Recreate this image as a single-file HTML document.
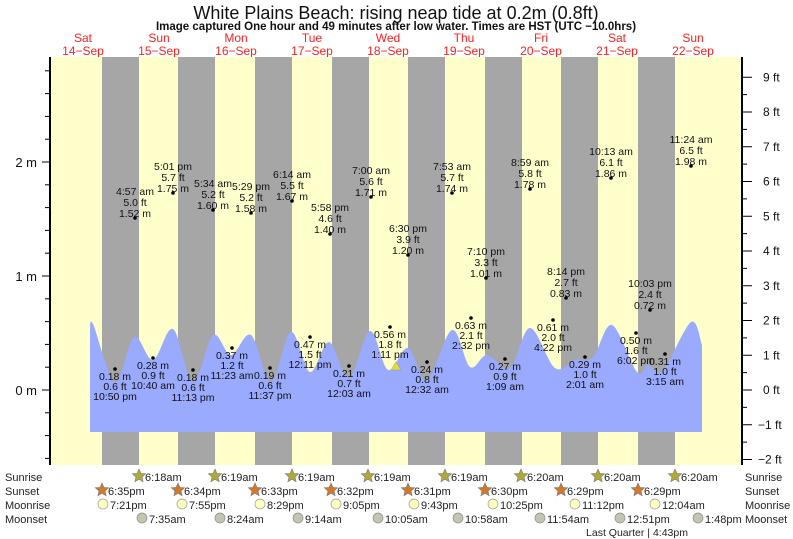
<!DOCTYPE html>
<html><head><meta charset="utf-8"><style>
body{margin:0;background:#fff;}
svg{display:block;font-family:"Liberation Sans",sans-serif;}
.t{font-size:10.5px;fill:#111;text-anchor:middle;}
.b{font-size:11px;fill:#222;}
</style></head><body>
<svg id="s" width="793" height="539" viewBox="0 0 793 539">
<rect width="793" height="539" fill="#fff"/>
<text x="396" y="19" font-size="18" text-anchor="middle" fill="#111">White Plains Beach: rising  neap tide at 0.2m (0.8ft)</text>
<text x="396" y="30" font-size="11.5" font-weight="bold" text-anchor="middle" fill="#111">Image captured One hour and 49 minutes after low water. Times are HST (UTC −10.0hrs)</text>
<g font-size="12" fill="#ff2020" text-anchor="middle">
<text x="83" y="42">Sat</text><text x="83" y="55">14−Sep</text>
<text x="159" y="42">Sun</text><text x="159" y="55">15−Sep</text>
<text x="236" y="42">Mon</text><text x="236" y="55">16−Sep</text>
<text x="312" y="42">Tue</text><text x="312" y="55">17−Sep</text>
<text x="388" y="42">Wed</text><text x="388" y="55">18−Sep</text>
<text x="464" y="42">Thu</text><text x="464" y="55">19−Sep</text>
<text x="541" y="42">Fri</text><text x="541" y="55">20−Sep</text>
<text x="617" y="42">Sat</text><text x="617" y="55">21−Sep</text>
<text x="693" y="42">Sun</text><text x="693" y="55">22−Sep</text>
</g>
<rect x="50" y="57" width="692" height="408" fill="#ffffcc"/>
<g fill="#a6a6a6">
<rect x="102" y="57" width="37" height="408"/><rect x="178" y="57" width="37" height="408"/>
<rect x="255" y="57" width="37" height="408"/><rect x="332" y="57" width="37" height="408"/>
<rect x="408" y="57" width="37" height="408"/><rect x="485" y="57" width="37" height="408"/>
<rect x="561" y="57" width="37" height="408"/><rect x="638" y="57" width="37" height="408"/>
</g>
<path id="tide" fill="#99aaff" d=""/>
<polygon points="391,370 396,362 401,370" fill="#e6d83a" stroke="#999" stroke-width="0.5"/>
<g id="lab"></g>
<line x1="50" y1="57" x2="50" y2="465" stroke="#000" stroke-width="2"/>
<line x1="742" y1="57" x2="742" y2="465" stroke="#000" stroke-width="2"/>
<g id="ticks" stroke="#000" stroke-width="1"></g>
<g font-size="13" fill="#111" text-anchor="end">
<text x="37" y="167">2 m</text><text x="37" y="281">1 m</text><text x="37" y="395">0 m</text>
</g>
<g id="ft" font-size="12" fill="#111"></g>
<g class="b">
<text x="5" y="481">Sunrise</text><text x="5" y="495">Sunset</text><text x="5" y="509">Moonrise</text><text x="5" y="523">Moonset</text>
<text x="745" y="481">Sunrise</text><text x="745" y="495">Sunset</text><text x="745" y="509">Moonrise</text><text x="745" y="523">Moonset</text>
<text x="637" y="536" text-anchor="middle" font-size="10.5">Last Quarter | 4:43pm</text>
</g>
<g id="astro"></g>
</svg>
<script>
var NS="http://www.w3.org/2000/svg";
function el(p,n,a,t){var e=document.createElementNS(NS,n);for(var k in a)e.setAttribute(k,a[k]);if(t!=null)e.textContent=t;p.appendChild(e);return e;}
var P=[[90,332],[93,324],[115,382],[134,337],[153,360],[173,329],[193,382],[213,335],[231,355],[251,335],[271,382],[291,332],[310,372],[329,342],[349,378],[370,331],[388,370],[408,348],[427,380],[452,330],[470,367],[487,355],[510,368],[530,328],[555,368],[575,360],[593,357],[612,325],[637,372],[648,365],[663,370],[691,322],[702,345]];
var d="M90,432 L"+P[0][0]+","+P[0][1];
for(var i=0;i<P.length-1;i++){var p0=P[Math.max(i-1,0)],p1=P[i],p2=P[i+1],p3=P[Math.min(i+2,P.length-1)];
d+=" C"+(p1[0]+(p2[0]-p0[0])/6)+","+(p1[1]+(p2[1]-p0[1])/6)+" "+(p2[0]-(p3[0]-p1[0])/6)+","+(p2[1]-(p3[1]-p1[1])/6)+" "+p2[0]+","+p2[1];}
d+=" L702,432 Z";document.getElementById("tide").setAttribute("d",d);
var L=document.getElementById("lab");
var H=[[135,191,"4:57 am","5.0 ft","1.52 m"],[173,166,"5:01 pm","5.7 ft","1.75 m"],[213,183,"5:34 am","5.2 ft","1.60 m"],[251,186,"5:29 pm","5.2 ft","1.58 m"],[292,174,"6:14 am","5.5 ft","1.67 m"],[330,207,"5:58 pm","4.6 ft","1.40 m"],[371,170,"7:00 am","5.6 ft","1.71 m"],[408,228,"6:30 pm","3.9 ft","1.20 m"],[452,166,"7:53 am","5.7 ft","1.74 m"],[486,251,"7:10 pm","3.3 ft","1.01 m"],[530,162,"8:59 am","5.8 ft","1.78 m"],[566,271,"8:14 pm","2.7 ft","0.83 m"],[611,151,"10:13 am","6.1 ft","1.86 m"],[650,283,"10:03 pm","2.4 ft","0.72 m"],[691,139,"11:24 am","6.5 ft","1.98 m"]];
H.forEach(function(h){for(var j=0;j<3;j++)el(L,"text",{x:h[0],y:h[1]+j*11+4,"class":"t"},h[2+j]);el(L,"circle",{cx:h[0],cy:h[1]+27,r:1.8,fill:"#000"});});
var Lo=[[115,369,"0.18 m","0.6 ft","10:50 pm"],[153,358,"0.28 m","0.9 ft","10:40 am"],[193,370,"0.18 m","0.6 ft","11:13 pm"],[232,348,"0.37 m","1.2 ft","11:23 am"],[270,368,"0.19 m","0.6 ft","11:37 pm"],[310,337,"0.47 m","1.5 ft","12:11 pm"],[349,366,"0.21 m","0.7 ft","12:03 am"],[390,327,"0.56 m","1.8 ft","1:11 pm"],[427,362,"0.24 m","0.8 ft","12:32 am"],[471,318,"0.63 m","2.1 ft","2:32 pm"],[505,359,"0.27 m","0.9 ft","1:09 am"],[553,320,"0.61 m","2.0 ft","4:22 pm"],[585,357,"0.29 m","1.0 ft","2:01 am"],[636,333,"0.50 m","1.6 ft","6:02 pm"],[665,354,"0.31 m","1.0 ft","3:15 am"]];
Lo.forEach(function(h){el(L,"circle",{cx:h[0],cy:h[1],r:1.8,fill:"#000"});for(var j=0;j<3;j++)el(L,"text",{x:h[0],y:h[1]+11+j*10,"class":"t"},h[2+j]);});
var T=document.getElementById("ticks");
for(var m=-0.6;m<=2.81;m+=0.2){var y=390-m*114,maj=Math.abs(m-Math.round(m))<0.01;el(T,"line",{x1:maj?42:45,x2:50,y1:y,y2:y});}
var F=document.getElementById("ft");
for(var f=-2;f<=9.01;f+=0.5){var y=390-f*34.75,maj=Math.abs(f-Math.round(f))<0.01;el(T,"line",{x1:742,x2:maj?752:747,y1:y,y2:y});if(maj)el(F,"text",{x:f<0?758:763,y:y+4},(f<0?"−":"")+Math.abs(Math.round(f))+" ft");}
var A=document.getElementById("astro");
function star(cx,cy,c){var pts=[];for(var k=0;k<10;k++){var r=k%2?3.2:7,a=-Math.PI/2+k*Math.PI/5;pts.push((cx+r*Math.cos(a)).toFixed(1)+","+(cy+r*Math.sin(a)).toFixed(1));}el(A,"polygon",{points:pts.join(" "),fill:c,stroke:"#777","stroke-width":0.6});}
var sr=[[139,"6:18am"],[215,"6:19am"],[292,"6:19am"],[368,"6:19am"],[445,"6:19am"],[521,"6:20am"],[598,"6:20am"],[675,"6:20am"]];
sr.forEach(function(s){star(s[0],476,"#b0a838");el(A,"text",{x:s[0]+6,y:481,"class":"b"},s[1]);});
var ss=[[102,"6:35pm"],[178,"6:34pm"],[255,"6:33pm"],[331,"6:32pm"],[408,"6:31pm"],[485,"6:30pm"],[561,"6:29pm"],[638,"6:29pm"]];
ss.forEach(function(s){star(s[0],490,"#d2782a");el(A,"text",{x:s[0]+6,y:495,"class":"b"},s[1]);});
var mr=[[103,"7:21pm"],[182,"7:55pm"],[260,"8:29pm"],[336,"9:05pm"],[414,"9:43pm"],[493,"10:25pm"],[575,"11:12pm"],[655,"12:04am"]];
mr.forEach(function(s){el(A,"circle",{cx:s[0],cy:504,r:5,fill:"#ffffc0",stroke:"#999","stroke-width":0.7});el(A,"text",{x:s[0]+7,y:509,"class":"b"},s[1]);});
var ms=[[142,"7:35am"],[220,"8:24am"],[298,"9:14am"],[378,"10:05am"],[458,"10:58am"],[540,"11:54am"],[620,"12:51pm"],[698,"1:48pm"]];
ms.forEach(function(s){el(A,"circle",{cx:s[0],cy:518,r:5,fill:"#c4c4b0",stroke:"#888","stroke-width":0.7});el(A,"text",{x:s[0]+7,y:523,"class":"b"},s[1]);});
</script>
</body></html>
